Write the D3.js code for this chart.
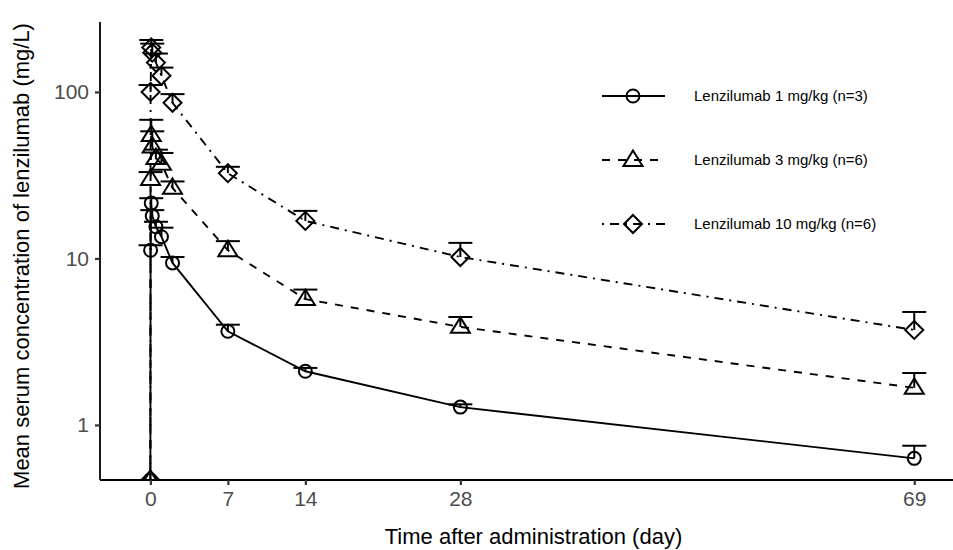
<!DOCTYPE html>
<html>
<head>
<meta charset="utf-8">
<script src="https://cdn.jsdelivr.net/npm/d3@7"></script>
<style>
  body { margin: 0; background: #fff; }
  text { font-family: "Liberation Sans", Arial, sans-serif; }
</style>
</head>
<body>
<svg id="chart"></svg>
<script>
// Data (time in days, concentration in mg/L; 0 = pre-dose, below the log axis)
const times = [0, 0.02, 0.08, 0.17, 0.5, 1, 2, 7, 14, 28, 69];
const dose1 = [0, 11.2, 21.5, 18, 15.5, 13.5, 9.4, 3.65, 2.1, 1.28, 0.63];
const dose1Upper = [0, 12.0, 23, 19.5, 16.6, 15.3, 10.2, 4.0, 2.2, 1.33, 0.75];
const dose3 = [0, 30, 55, 47, 40, 37, 26.5, 11.2, 5.7, 3.88, 1.67];
const dose3Upper = [0, 33, 68, 58, 45, 43, 29, 12.7, 6.5, 4.45, 2.05];
const dose10 = [0, 100, 185, 172, 150, 125, 86, 32.5, 16.8, 10.2, 3.72];
const dose10Upper = [0, 110, 205, 195, 170, 140, 97, 35.5, 19.3, 12.4, 4.77];
const seriesNames = ['Lenzilumab 1 mg/kg (n=3)', 'Lenzilumab 3 mg/kg (n=6)', 'Lenzilumab 10 mg/kg (n=6)'];
const xTicks = [0, 7, 14, 28, 69];
const yTicks = [1, 10, 100];

const width = 953;
const height = 550;
const margin = { top: 22, right: 0, bottom: 70, left: 100 };

const series = [
    { name: seriesNames[0], values: dose1, upper: dose1Upper, shape: 'circle', dash: null },
    { name: seriesNames[1], values: dose3, upper: dose3Upper, shape: 'triangle', dash: '8,8' },
    { name: seriesNames[2], values: dose10, upper: dose10Upper, shape: 'diamond', dash: '2,6,9,6' }
];

const svg = d3.select('#chart')
    .attr('width', width)
    .attr('height', height);

const x = d3.scaleLinear().domain([-4.55, 72.5]).range([margin.left, width - margin.right]);
const y = d3.scaleLog().domain([0.467, 263]).range([height - margin.bottom, margin.top]);
const yPos = v => v > 0 ? y(v) : y.range()[0]; // zero drawn at panel edge like -Inf

// clip to panel
svg.append('clipPath').attr('id', 'panel')
    .append('rect')
    .attr('x', margin.left).attr('y', margin.top)
    .attr('width', width - margin.left - margin.right)
    .attr('height', height - margin.top - margin.bottom);

const panel = svg.append('g').attr('clip-path', 'url(#panel)');

function drawShape(g, shape, cx, cy) {
    if (shape === 'circle') {
        g.append('circle').attr('cx', cx).attr('cy', cy).attr('r', 6.5);
    } else if (shape === 'triangle') {
        const s = 9.5;
        g.append('path').attr('d', `M${cx},${cy - s} L${cx + s},${cy + s * 0.62} L${cx - s},${cy + s * 0.62} Z`);
    } else {
        const s = 9;
        g.append('path').attr('d', `M${cx},${cy - s} L${cx + s},${cy} L${cx},${cy + s} L${cx - s},${cy} Z`);
    }
}

series.forEach(s => {
    const pts = times.map((t, i) => ({ t, v: s.values[i], u: s.upper[i] }));

    // error bars (upper only)
    const eb = panel.append('g').attr('stroke', '#000').attr('stroke-width', 2).attr('fill', 'none');
    pts.filter(d => d.v > 0).forEach(d => {
        eb.append('line')
            .attr('x1', x(d.t)).attr('x2', x(d.t))
            .attr('y1', y(d.v)).attr('y2', y(d.u));
        eb.append('line')
            .attr('x1', x(d.t) - 12).attr('x2', x(d.t) + 12)
            .attr('y1', y(d.u)).attr('y2', y(d.u));
    });

    // line
    const line = d3.line().x(d => x(d.t)).y(d => yPos(d.v));
    panel.append('path')
        .datum(pts)
        .attr('d', line)
        .attr('fill', 'none')
        .attr('stroke', '#000')
        .attr('stroke-width', 1.9)
        .attr('stroke-dasharray', s.dash);

    // points
    const pg = panel.append('g').attr('stroke', '#000').attr('stroke-width', 2).attr('fill', 'none');
    pts.forEach(d => drawShape(pg, s.shape, x(d.t), yPos(d.v)));
});

// axes
const xAxis = svg.append('g')
    .attr('transform', `translate(0,${height - margin.bottom})`)
    .call(d3.axisBottom(x).tickValues(xTicks).tickSize(5).tickPadding(6).tickFormat(d3.format('d')));
const yAxis = svg.append('g')
    .attr('transform', `translate(${margin.left},0)`)
    .call(d3.axisLeft(y).tickValues(yTicks).tickSize(5).tickPadding(6).tickFormat(d3.format('d')));

[xAxis, yAxis].forEach(a => {
    a.select('.domain').attr('stroke', '#000').attr('stroke-width', 1.8);
    a.selectAll('.tick line').attr('stroke', '#333').attr('stroke-width', 2.2);
    a.selectAll('.tick text').attr('fill', '#4d4d4d').style('font-size', '21px');
});
xAxis.select('.domain').attr('d', `M${margin.left},0H${width}`);
yAxis.select('.domain').attr('d', `M0,${margin.top}V${height - margin.bottom}`);

// axis titles
svg.append('text')
    .attr('x', (margin.left + width) / 2 + 7)
    .attr('y', height - 6)
    .attr('text-anchor', 'middle')
    .style('font-size', '22px')
    .text('Time after administration (day)');

svg.append('text')
    .attr('transform', `translate(29,${(margin.top + height - margin.bottom) / 2 + 5}) rotate(-90)`)
    .attr('text-anchor', 'middle')
    .style('font-size', '22px')
    .text('Mean serum concentration of lenzilumab (mg/L)');

// legend
const legend = svg.append('g').attr('transform', 'translate(602,96)');
series.forEach((s, i) => {
    const row = legend.append('g').attr('transform', `translate(0,${i * 64})`);
    row.append('line')
        .attr('x1', 0).attr('x2', 63)
        .attr('y1', 0).attr('y2', 0)
        .attr('stroke', '#000').attr('stroke-width', 1.9)
        .attr('stroke-dasharray', s.dash);
    const mg = row.append('g').attr('stroke', '#000').attr('stroke-width', 2).attr('fill', 'none');
    drawShape(mg, s.shape, 31, 0);
    row.append('text')
        .attr('x', 92)
        .attr('y', 0)
        .attr('dy', '0.35em')
        .style('font-size', '15px')
        .text(s.name);
});
</script>
</body>
</html>
